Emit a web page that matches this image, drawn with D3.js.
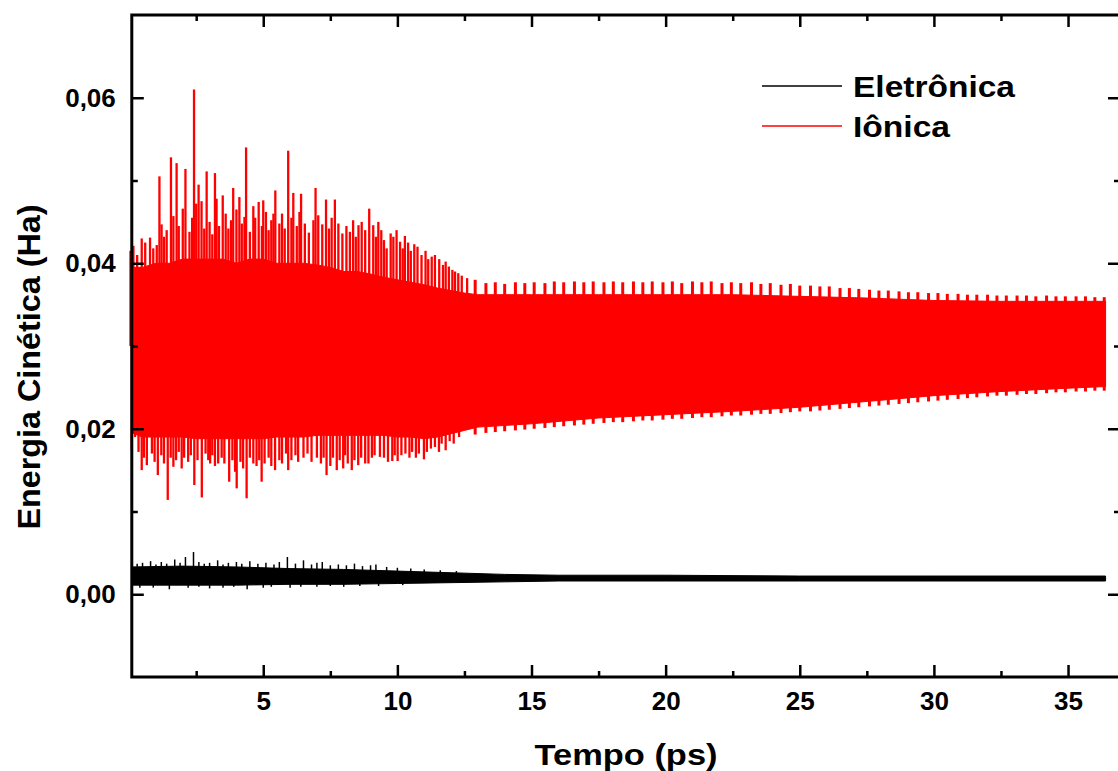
<!DOCTYPE html>
<html>
<head>
<meta charset="utf-8">
<script src="https://cdn.jsdelivr.net/npm/d3@7"></script>
<style>
  body { margin: 0; background: #fff; }
  svg text { font-family: "Liberation Sans", Arial, sans-serif; font-weight: bold; }
</style>
</head>
<body>
<div id="chart"></div>
<script>
// Envelope of the ionic kinetic energy (Ha) vs time (ps)
const ionT = [0.1, 0.5, 1, 1.5, 2, 2.5, 3, 3.5, 4, 4.5, 5, 5.5, 6, 6.5, 7, 7.5, 8, 8.5, 9, 9.5, 10, 10.5, 11, 11.5, 12, 12.5, 13, 14, 15, 17.5, 20, 22.5, 25, 27.5, 30, 32.5, 35, 36.4];
const ionUpper = [0.0395, 0.0395, 0.040, 0.040, 0.0405, 0.0405, 0.0405, 0.0405, 0.040, 0.0405, 0.0405, 0.040, 0.040, 0.040, 0.0398, 0.0395, 0.039, 0.039, 0.0387, 0.0383, 0.038, 0.0377, 0.0374, 0.037, 0.0367, 0.0364, 0.0362, 0.0362, 0.0362, 0.0362, 0.0362, 0.0362, 0.036, 0.0358, 0.0355, 0.0354, 0.0354, 0.0354];
const ionLower = [0.0195, 0.019, 0.019, 0.019, 0.019, 0.0188, 0.0188, 0.0188, 0.0188, 0.0188, 0.0188, 0.019, 0.019, 0.019, 0.0192, 0.0192, 0.0192, 0.0192, 0.0192, 0.0192, 0.019, 0.019, 0.0188, 0.019, 0.0194, 0.0198, 0.0202, 0.0204, 0.0206, 0.0213, 0.0217, 0.0221, 0.0226, 0.0233, 0.0240, 0.0245, 0.0249, 0.0251];

// upward spikes of the ionic curve (first ~12 ps)
const ionPeakT = [0.16, 0.47, 0.78, 1.03, 1.13, 1.21, 1.56, 1.65, 1.77, 2.0, 2.1, 2.42, 2.59, 2.7, 2.89, 3.2, 3.26, 3.49, 3.88, 4.11, 4.36, 4.63, 4.83, 5.0, 5.38, 5.45, 5.93, 6.12, 6.41, 6.87, 6.95, 7.34, 7.67, 8.23, 8.67, 8.95, 9.29, 9.6, 9.75, 9.97, 10.28, 10.63, 11.28, 11.56, 11.92, 12.27,
  0.05, 0.3, 0.6, 0.9, 1.3, 1.4, 1.85, 2.25, 2.35, 2.5, 2.8, 3.0, 3.1, 3.35, 3.6, 3.7, 3.8, 4.0, 4.2, 4.3, 4.5, 4.7, 4.95, 5.1, 5.2, 5.3, 5.6, 5.7, 5.8, 6.05, 6.25, 6.35, 6.55, 6.7, 7.05, 7.2, 7.45, 7.55, 7.8, 7.95, 8.1, 8.35, 8.45, 8.55, 8.8, 9.1, 9.2, 9.4, 9.5, 9.85, 10.1, 10.2, 10.4, 10.5, 10.75, 10.9, 11.05, 11.15, 11.4, 11.7, 11.8, 12.05, 12.15, 12.4, 12.6];
const ionPeakV = [0.0421, 0.0430, 0.0431, 0.0422, 0.0505, 0.0447, 0.0528, 0.0457, 0.0521, 0.0466, 0.0514, 0.0610, 0.0495, 0.0475, 0.0511, 0.0509, 0.0478, 0.0482, 0.0491, 0.0480, 0.0540, 0.0469, 0.0474, 0.0476, 0.0460, 0.0488, 0.0536, 0.0485, 0.0484, 0.0452, 0.0491, 0.0477, 0.0477, 0.0438, 0.0450, 0.0466, 0.0450, 0.0418, 0.0436, 0.0440, 0.0433, 0.0423, 0.0408, 0.0405, 0.0396, 0.0388,
  0.0415, 0.0410, 0.0425, 0.0418, 0.0432, 0.0440, 0.0445, 0.0438, 0.0455, 0.0472, 0.0442, 0.0450, 0.0435, 0.0445, 0.0460, 0.0442, 0.0452, 0.0465, 0.0448, 0.0456, 0.0438, 0.0455, 0.0445, 0.0462, 0.0440, 0.0452, 0.0448, 0.0460, 0.0442, 0.0455, 0.0445, 0.0462, 0.0448, 0.0437, 0.0458, 0.0447, 0.0442, 0.0455, 0.0448, 0.0436, 0.0445, 0.0452, 0.0432, 0.0446, 0.0440, 0.0446, 0.0432, 0.0440, 0.0428, 0.0432, 0.0426, 0.0418, 0.0425, 0.0415, 0.0420, 0.0410, 0.0415, 0.0405, 0.0410, 0.0398, 0.0402, 0.0392, 0.0390, 0.0385, 0.0382];

// downward spikes of the ionic curve
const ionDipT = [0.22, 0.47, 0.66, 1.07, 1.44, 1.65, 1.96, 2.43, 2.71, 3.02, 3.32, 3.73, 4.01, 4.38, 4.63, 4.94, 5.44, 5.93, 7.36, 7.74, 7.98, 8.3, 8.54, 8.92, 9.35, 9.81, 10.01, 10.69, 10.99, 11.8,
  0.1, 0.35, 0.55, 0.85, 0.95, 1.2, 1.3, 1.55, 1.75, 1.85, 2.05, 2.2, 2.3, 2.55, 2.85, 2.95, 3.1, 3.2, 3.45, 3.55, 3.85, 3.95, 4.15, 4.25, 4.5, 4.75, 4.85, 5.05, 5.2, 5.3, 5.6, 5.7, 5.85, 6.05, 6.2, 6.3, 6.5, 6.65, 6.8, 7.0, 7.15, 7.25, 7.5, 7.6, 7.85, 8.05, 8.15, 8.4, 8.65, 8.8, 9.05, 9.15, 9.5, 9.65, 9.9, 10.15, 10.3, 10.45, 10.55, 10.8, 11.1, 11.25, 11.4, 11.55, 11.65, 11.95, 12.1, 12.3];
const ionDipV = [0.0190, 0.0150, 0.0156, 0.0144, 0.0114, 0.0154, 0.0152, 0.0132, 0.0117, 0.0158, 0.0158, 0.0136, 0.0128, 0.0116, 0.0158, 0.0136, 0.0150, 0.0150, 0.0144, 0.0150, 0.0152, 0.0150, 0.0156, 0.0158, 0.0166, 0.0161, 0.0161, 0.0165, 0.0163, 0.0174,
  0.0175, 0.0172, 0.0165, 0.0170, 0.0160, 0.0168, 0.0158, 0.0165, 0.0162, 0.0172, 0.0165, 0.0160, 0.0168, 0.0162, 0.0170, 0.0162, 0.0168, 0.0155, 0.0165, 0.0158, 0.0162, 0.0148, 0.0160, 0.0152, 0.0165, 0.0155, 0.0162, 0.0158, 0.0165, 0.0155, 0.0162, 0.0158, 0.0170, 0.0162, 0.0168, 0.0160, 0.0165, 0.0170, 0.0160, 0.0165, 0.0158, 0.0165, 0.0155, 0.0165, 0.0162, 0.0168, 0.0158, 0.0162, 0.0165, 0.0158, 0.0165, 0.0168, 0.0165, 0.0160, 0.0168, 0.0168, 0.0170, 0.0165, 0.0172, 0.0170, 0.0172, 0.0176, 0.0178, 0.0172, 0.0182, 0.0185, 0.0182, 0.0190];

// regular oscillation teeth after ~13 ps
const toothT = [12.9, 13.3, 13.65, 14.0, 14.4, 14.75, 15.1, 15.5, 15.85, 16.2, 16.6, 16.95, 17.3, 17.7, 18.05, 18.4, 18.8, 19.15, 19.5, 19.9, 20.25, 20.6, 21.0, 21.35, 21.7, 22.1, 22.45, 22.8, 23.2, 23.55, 23.9, 24.3, 24.65, 25.0, 25.4, 25.75, 26.1, 26.5, 26.85, 27.2, 27.6, 27.95, 28.3, 28.7, 29.05, 29.4, 29.8, 30.15, 30.5, 30.9, 31.25, 31.6, 32.0, 32.35, 32.7, 33.1, 33.45, 33.8, 34.2, 34.55, 34.9, 35.3, 35.65, 36.0, 36.35];
const toothHi = [0.0380, 0.0376, 0.0377, 0.0375, 0.0377, 0.0376, 0.0377, 0.0376, 0.0378, 0.0377, 0.0378, 0.0377, 0.0378, 0.0377, 0.0378, 0.0377, 0.0378, 0.0377, 0.0378, 0.0377, 0.0378, 0.0376, 0.0378, 0.0377, 0.0378, 0.0376, 0.0377, 0.0376, 0.0377, 0.0375, 0.0376, 0.0374, 0.0375, 0.0373, 0.0373, 0.0372, 0.0372, 0.0370, 0.0370, 0.0369, 0.0368, 0.0367, 0.0367, 0.0366, 0.0365, 0.0365, 0.0364, 0.0364, 0.0363, 0.0363, 0.0362, 0.0362, 0.0362, 0.0361, 0.0361, 0.0361, 0.0361, 0.0360, 0.0361, 0.0360, 0.0360, 0.0360, 0.0360, 0.0359, 0.0359];
const toothLo = [0.0193, 0.0195, 0.0196, 0.0197, 0.0198, 0.0199, 0.0200, 0.0201, 0.0202, 0.0203, 0.0204, 0.0205, 0.0206, 0.0207, 0.0208, 0.0208, 0.0209, 0.0210, 0.0210, 0.0211, 0.0212, 0.0212, 0.0213, 0.0214, 0.0214, 0.0215, 0.0216, 0.0216, 0.0217, 0.0218, 0.0218, 0.0219, 0.0220, 0.0221, 0.0221, 0.0222, 0.0223, 0.0224, 0.0225, 0.0226, 0.0227, 0.0228, 0.0229, 0.0230, 0.0231, 0.0232, 0.0233, 0.0234, 0.0235, 0.0236, 0.0237, 0.0238, 0.0239, 0.0240, 0.0240, 0.0241, 0.0242, 0.0242, 0.0243, 0.0244, 0.0244, 0.0245, 0.0245, 0.0246, 0.0246];

// electronic kinetic energy envelope
const eleT = [0.1, 2, 4, 6, 8, 10, 12, 14, 16, 20, 25, 30, 36.4];
const eleUpper = [0.0033, 0.0034, 0.0033, 0.0031, 0.0030, 0.0028, 0.0026, 0.0024, 0.0023, 0.0023, 0.0022, 0.0022, 0.0022];
const eleLower = [0.0011, 0.0011, 0.0011, 0.0012, 0.0012, 0.0013, 0.0014, 0.0015, 0.0016, 0.0016, 0.0016, 0.0016, 0.0016];
const elePeakT = [0.8, 1.7, 2.1, 2.4, 3.3, 4.0, 4.5, 5.9, 6.5, 7.2, 8.4, 9.2,
  0.3, 0.5, 1.0, 1.2, 1.4, 1.9, 2.6, 2.8, 3.0, 3.5, 3.7, 4.2, 4.8, 5.1, 5.4, 5.6, 6.2, 6.8, 7.0, 7.5, 7.8, 8.1, 8.7, 9.0, 9.6, 10.0, 10.5, 11.0, 11.6, 12.2];
const elePeakV = [0.0040, 0.0042, 0.0045, 0.0051, 0.0041, 0.0039, 0.0040, 0.0045, 0.0041, 0.0039, 0.0037, 0.0036,
  0.0037, 0.0038, 0.0036, 0.0039, 0.0037, 0.0038, 0.0039, 0.0037, 0.0038, 0.0036, 0.0038, 0.0037, 0.0037, 0.0038, 0.0036, 0.0039, 0.0037, 0.0036, 0.0038, 0.0035, 0.0036, 0.0035, 0.0034, 0.0035, 0.0033, 0.0032, 0.0031, 0.0030, 0.0029, 0.0028];
const eleDipT = [1.5, 3.0, 4.4, 6.0, 8.0, 0.4, 0.9, 2.2, 2.6, 3.5, 3.9, 5.0, 5.3, 6.4, 7.0, 7.5, 8.6, 9.3, 10.2];
const eleDipV = [0.0006, 0.0007, 0.0006, 0.0008, 0.0009, 0.0008, 0.0008, 0.0008, 0.0009, 0.0008, 0.0009, 0.0008, 0.0009, 0.0009, 0.0009, 0.0010, 0.0010, 0.0010, 0.0011];

const xMajor = [5, 10, 15, 20, 25, 30, 35];
const xMinor = [2.5, 7.5, 12.5, 17.5, 22.5, 27.5, 32.5];
const yMajor = [0, 0.02, 0.04, 0.06];
const yMinor = [0.01, 0.03, 0.05];
const seriesNames = ["Eletrônica", "Iônica"];
const seriesColors = ["#000000", "#ff0000"];

const width = 1118, height = 771;
const plotL = 131.8, plotR = 1119, plotT = 15, plotB = 677;
const frameR = 1122;

const svg = d3.select("#chart").append("svg")
  .attr("width", width)
  .attr("height", height);

const x = d3.scaleLinear().domain([0.1, 36.9]).range([plotL, plotR]);
const y = d3.scaleLinear().domain([-0.01, 0.07]).range([plotB, plotT]);

const fmt = d => d3.format(".2f")(d).replace(".", ",");

// bands
function band(ts, up, lo, color) {
  const pts = ts.map((t, i) => ({ t, u: up[i], l: lo[i] }));
  svg.append("path")
    .datum(pts)
    .attr("fill", color)
    .attr("stroke", color)
    .attr("stroke-width", 1)
    .attr("d", d3.area().x(d => x(d.t)).y0(d => y(d.l)).y1(d => y(d.u)));
}
function spikes(ts, vs, base, color, w) {
  svg.append("g").selectAll("line")
    .data(ts.map((t, i) => ({ t, v: vs[i] })))
    .join("line")
    .attr("x1", d => x(d.t)).attr("x2", d => x(d.t))
    .attr("y1", y(base)).attr("y2", d => y(d.v))
    .attr("stroke", color)
    .attr("stroke-width", w);
}

band(ionT, ionUpper, ionLower, seriesColors[1]);
spikes(ionPeakT, ionPeakV, 0.03, seriesColors[1], 2.3);
spikes(ionDipT, ionDipV, 0.03, seriesColors[1], 2.3);
spikes(toothT, toothHi, 0.03, seriesColors[1], 3);
spikes(toothT, toothLo, 0.03, seriesColors[1], 3);

band(eleT, eleUpper, eleLower, seriesColors[0]);
spikes(elePeakT, elePeakV, 0.002, seriesColors[0], 1.5);
spikes(eleDipT, eleDipV, 0.002, seriesColors[0], 1.5);

// axes (ticks pointing inward)
function styleAxis(g) {
  g.select(".domain").remove();
  g.selectAll(".tick line").attr("stroke", "#000").attr("stroke-width", 2.5);
  g.selectAll(".tick text").attr("fill", "#000").style("font-size", "26px");
}
svg.append("g").attr("transform", `translate(0,${plotB})`)
  .call(d3.axisBottom(x).tickValues(xMajor).tickSize(-12).tickPadding(14.5).tickFormat(d3.format("d")))
  .call(styleAxis);
svg.append("g").attr("transform", `translate(0,${plotB})`)
  .call(d3.axisBottom(x).tickValues(xMinor).tickSize(-6).tickFormat(""))
  .call(styleAxis);
svg.append("g").attr("transform", `translate(0,${plotT})`)
  .call(d3.axisTop(x).tickValues(xMajor).tickSize(-12).tickFormat(""))
  .call(styleAxis);
svg.append("g").attr("transform", `translate(0,${plotT})`)
  .call(d3.axisTop(x).tickValues(xMinor).tickSize(-6).tickFormat(""))
  .call(styleAxis);
svg.append("g").attr("transform", `translate(${plotL},0)`)
  .call(d3.axisLeft(y).tickValues(yMajor).tickSize(-12).tickPadding(16).tickFormat(fmt))
  .call(styleAxis);
svg.append("g").attr("transform", `translate(${plotL},0)`)
  .call(d3.axisLeft(y).tickValues(yMinor).tickSize(-6).tickFormat(""))
  .call(styleAxis);
svg.append("g").attr("transform", `translate(${frameR},0)`)
  .call(d3.axisRight(y).tickValues(yMajor).tickSize(-14).tickFormat(""))
  .call(styleAxis);
svg.append("g").attr("transform", `translate(${frameR},0)`)
  .call(d3.axisRight(y).tickValues(yMinor).tickSize(-8).tickFormat(""))
  .call(styleAxis);

// frame
svg.append("rect")
  .attr("x", plotL).attr("y", plotT)
  .attr("width", frameR - plotL).attr("height", plotB - plotT)
  .attr("fill", "none")
  .attr("stroke", "#000")
  .attr("stroke-width", 3);

// axis titles
svg.append("text")
  .attr("x", 626).attr("y", 765)
  .attr("text-anchor", "middle")
  .attr("textLength", 183).attr("lengthAdjust", "spacingAndGlyphs")
  .style("font-size", "30px")
  .text("Tempo (ps)");
svg.append("text")
  .attr("transform", "translate(40,367) rotate(-90)")
  .attr("text-anchor", "middle")
  .attr("textLength", 325).attr("lengthAdjust", "spacingAndGlyphs")
  .style("font-size", "32px")
  .text("Energia Cinética (Ha)");

// legend
const legend = svg.append("g");
const legendY = [86, 126];
const legendLen = [162, 97];
seriesNames.forEach((name, i) => {
  legend.append("line")
    .attr("x1", 762).attr("x2", 842)
    .attr("y1", legendY[i]).attr("y2", legendY[i])
    .attr("stroke", seriesColors[i])
    .attr("stroke-width", 1.5);
  legend.append("text")
    .attr("x", 853).attr("y", legendY[i] + 11)
    .attr("textLength", legendLen[i]).attr("lengthAdjust", "spacingAndGlyphs")
    .style("font-size", "29px")
    .text(name);
});
</script>
</body>
</html>
